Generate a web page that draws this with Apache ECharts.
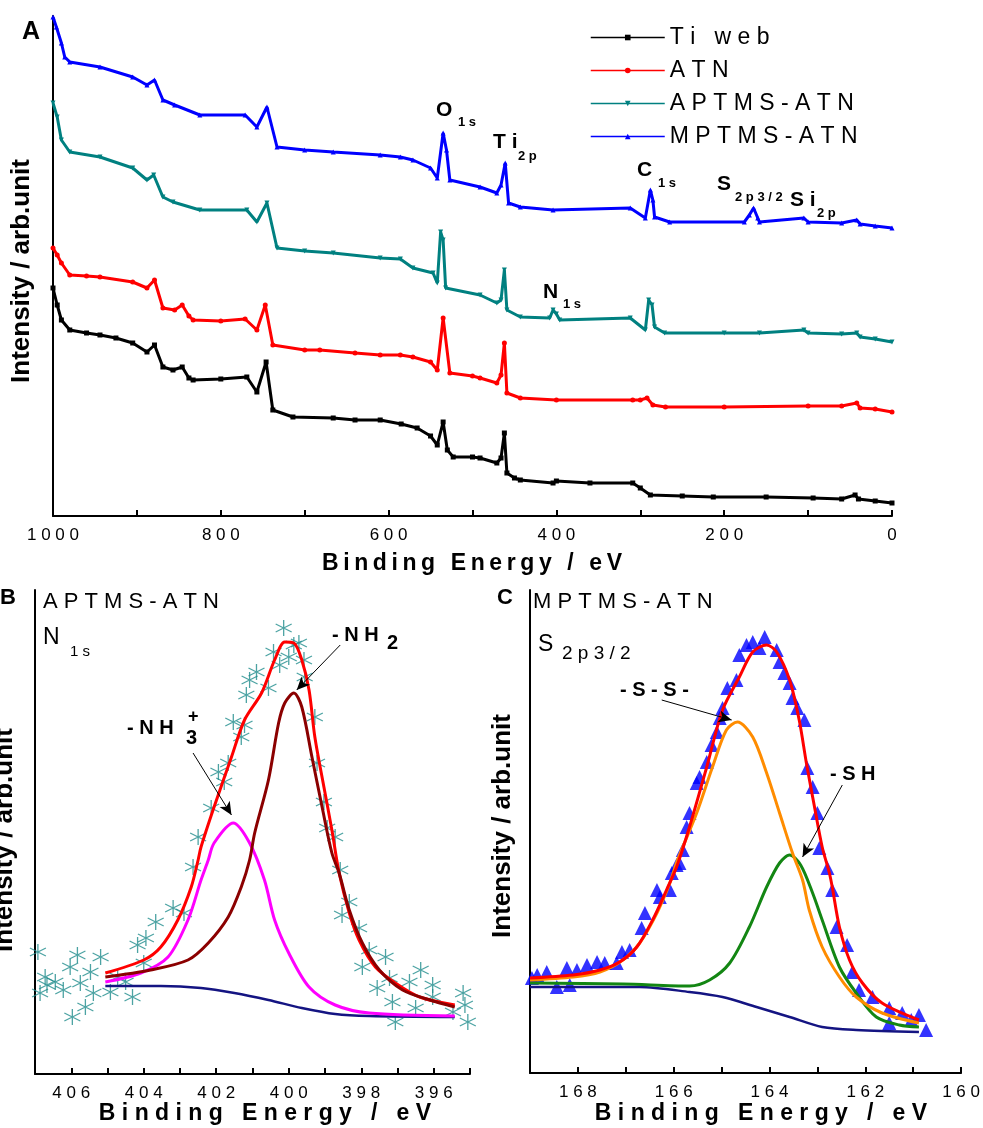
<!DOCTYPE html>
<html>
<head>
<meta charset="utf-8">
<script src="https://cdn.jsdelivr.net/npm/echarts@6/dist/echarts.min.js"></script>
</head>
<body style="margin:0; background:#fff;">
<div id="main" style="width:983px; height:1128px;"></div>
<script>
// ---- data (binding energy eV, intensity arb.) ----
// panel A: survey spectra
var surveyNames = ['Ti web', 'ATN', 'APTMS-ATN', 'MPTMS-ATN'];
var tiWeb = [[1000,228],[995,211],[990,196],[980,186],[960,183],[944,181],[925,178],[905,173],[888,164],[879,171],[869,149],[857,146],[846,149],[838,138],[833,136],[800,137],[769,139],[757,124],[746,154],[738,106],[714,99],[666,98],[640,96],[610,96],[585,92],[566,88],[550,80],[542,71],[535,94],[530,66],[523,59],[500,59],[491,58],[471,53],[466,58],[462,83],[459,43],[450,38],[443,36],[404,33],[400,35],[360,33],[309,33],[300,28],[288,21],[250,20],[213,19],[150,19],[94,18],[60,17],[44,21],[40,17],[20,15],[0,13]];
var atn = [[1000,268],[995,261],[990,253],[980,241],[960,240],[944,239],[905,234],[888,228],[879,236],[869,208],[855,206],[846,211],[838,200],[833,196],[800,195],[771,197],[757,186],[747,211],[738,171],[700,166],[682,166],[640,163],[610,161],[586,161],[571,159],[550,154],[542,146],[535,198],[527,143],[500,140],[491,138],[471,133],[466,141],[462,173],[459,123],[443,118],[400,116],[309,116],[300,116],[292,118],[285,111],[270,109],[200,109],[100,110],[60,110],[42,113],[38,108],[20,107],[0,104]];
var aptmsAtn = [[1000,413],[995,399],[990,376],[980,364],[944,359],[905,348],[888,336],[880,341],[869,319],[857,314],[825,306],[769,306],[757,294],[745,313],[733,268],[700,265],[666,263],[610,258],[586,257],[571,248],[547,243],[542,233],[538,284],[535,276],[532,228],[491,221],[471,213],[466,216],[462,246],[459,206],[443,199],[408,198],[404,206],[400,202],[396,196],[312,198],[294,186],[290,216],[286,211],[283,189],[271,183],[200,183],[158,183],[105,186],[100,183],[60,182],[42,183],[38,179],[20,177],[0,174]];
var mptmsAtn = [[1000,499],[996,489],[990,473],[986,459],[980,454],[944,449],[905,439],[888,431],[879,436],[869,416],[855,411],[825,401],[771,401],[757,389],[745,409],[733,369],[700,366],[666,364],[610,361],[586,359],[571,356],[550,348],[542,338],[535,383],[531,366],[527,336],[491,329],[471,323],[466,331],[461,353],[457,313],[443,309],[404,306],[312,308],[294,298],[288,326],[285,316],[283,299],[265,294],[176,294],[170,301],[165,308],[160,298],[158,294],[105,298],[100,294],[60,293],[42,296],[38,292],[20,290],[0,288]];

// panel B: N1s of APTMS-ATN
var n1sData = [[400.14,446],[399.72,431],[399.86,429],[400.42,422],[399.58,414],[400.25,409],[400.0,417],[400.89,402],[401.08,394],[400.56,386],[401.17,379],[399.56,397],[401.53,352],[401.22,349],[401.31,337],[399.28,357],[401.67,311],[401.94,302],[401.78,292],[402.14,266],[399.22,311],[399.03,272],[398.94,246],[398.72,237],[402.5,237],[402.64,207],[398.58,204],[398.33,172],[403.19,166],[402.89,161],[398.53,159],[403.67,152],[398.06,146],[403.94,136],[404.17,129],[397.78,124],[397.97,107],[397.33,117],[396.36,104],[397.22,96],[397.56,86],[396.67,92],[396.03,89],[396.03,77],[397.06,52],[397.14,72],[396.5,66],[395.19,81],[395.14,69],[395.47,62],[395.06,52],[406.92,122],[405.83,119],[405.19,117],[406.03,107],[405.47,102],[406.72,97],[406.44,92],[406.67,89],[405.75,91],[406.86,81],[406.22,84],[405.39,81],[404.92,82],[404.5,92],[404.31,77],[405.61,67],[405.97,57],[404.72,97],[404.0,111]];
var n1sEnvelope = [[405.06,101],[404.0,114],[403.53,127],[403.06,154],[402.69,187],[402.5,214],[402.42,227],[402.06,267],[401.58,317],[401.22,354],[400.75,381],[400.39,414],[400.11,432],[399.86,431],[399.64,414],[399.44,384],[399.28,337],[399.03,287],[398.81,244],[398.61,201],[398.33,161],[398.06,134],[397.61,107],[397.06,91],[396.39,77],[395.42,69]];
var n1sNH2 = [[405.06,97],[403.81,104],[402.78,114],[402.22,131],[401.67,157],[401.31,187],[401.08,214],[400.94,241],[400.56,294],[400.28,351],[400.11,371],[399.86,381],[399.64,367],[399.36,317],[399.08,267],[398.81,221],[398.61,201],[398.33,164],[397.97,131],[397.5,104],[396.86,84],[396.11,74],[395.42,67]];
var n1sNH3 = [[405.06,92],[404.08,101],[403.33,117],[402.78,154],[402.42,194],[402.22,214],[402.06,231],[401.53,251],[401.08,231],[400.67,194],[400.39,154],[400.0,121],[399.44,87],[398.72,69],[397.78,61],[395.42,58]];
var n1sBase = [[405.06,88],[403.53,88],[402.42,86],[401.5,81],[400.56,74],[399.64,66],[398.72,60],[397.78,58],[395.42,57]];

// panel C: S2p3/2 of MPTMS-ATN
var s2pData = [[164.10,436],[164.35,431],[164.48,428],[164.63,418],[164.21,425],[163.85,423],[163.79,411],[163.69,400],[163.58,390],[164.69,393],[164.88,385],[163.52,375],[163.42,365],[163.27,353],[164.98,365],[165.04,355],[165.10,341],[165.21,328],[165.31,311],[163.21,305],[163.10,286],[165.46,296],[165.52,290],[165.67,260],[165.73,246],[163.0,260],[162.96,225],[165.81,223],[165.94,208],[162.79,205],[166.04,200],[165.88,210],[162.69,183],[166.08,183],[166.35,183],[166.29,176],[166.60,160],[166.67,145],[162.60,146],[162.38,128],[166.92,123],[167.08,121],[167.19,110],[167.44,110],[167.60,111],[167.81,108],[168.02,103],[168.23,105],[168.65,101],[168.85,98],[168.96,95],[168.44,86],[168.17,88],[162.27,101],[162.13,83],[161.85,76],[161.50,65],[161.23,60],[161.04,53],[160.88,58],[160.73,43],[161.50,50]];
var s2pEnvelope = [[169,95],[168.10,98],[167.54,103],[167.13,111],[166.77,126],[166.44,153],[166.15,183],[165.94,206],[165.67,246],[165.31,306],[164.98,363],[164.63,396],[164.35,421],[164.06,428],[163.85,421],[163.58,393],[163.38,353],[163.23,310],[163.06,266],[162.90,226],[162.75,200],[162.69,186],[162.54,146],[162.33,113],[162.06,90],[161.65,70],[160.88,53]];
var s2pSS = [[169,93],[168.10,96],[167.54,101],[167.06,113],[166.71,130],[166.35,160],[166.08,190],[165.92,213],[165.52,260],[165.19,306],[164.90,343],[164.67,351],[164.35,336],[164.06,300],[163.79,260],[163.52,220],[163.31,193],[163.17,163],[162.90,126],[162.54,96],[162.19,76],[161.65,60],[160.88,50]];
var s2pSH = [[169,90],[167.06,89],[165.67,87],[165.25,93],[164.83,110],[164.42,146],[164.06,186],[163.79,210],[163.58,218],[163.35,208],[163.10,180],[162.90,153],[162.54,106],[162.19,80],[161.77,56],[161.29,48],[160.88,46]];
var s2pBase = [[169,86],[166.71,86],[165.67,81],[164.98,76],[164.27,66],[163.58,56],[162.90,46],[162.19,43],[160.88,41]];

var FONT = 'Liberation Sans, Arial, sans-serif';

function spaced(s, sep) {
    return String(s).split('').join(sep === undefined ? ' ' : sep);
}

function txt(x, y, text, size, bold, align, rot) {
    return {
        type: 'text', x: x, y: y, rotation: rot || 0, silent: true,
        style: {
            text: text, fontSize: size, fontWeight: bold ? 'bold' : 'normal',
            fontFamily: FONT, fill: '#000',
            align: align || 'left', verticalAlign: 'middle'
        }
    };
}

var chart = echarts.init(document.getElementById('main'));

var axisLine = {show: true, onZero: false, lineStyle: {color: '#000', width: 2}};

function xAxisFor(idx, min, max, step, every) {
    return {
        type: 'value', gridIndex: idx, min: min, max: max, interval: step, inverse: true,
        axisLine: axisLine,
        axisTick: {show: true, inside: true, length: 6, lineStyle: {color: '#000', width: 2}},
        axisLabel: {
            margin: 11, fontSize: 17, fontFamily: FONT, color: '#000',
            formatter: function (v) { return v % every === 0 ? spaced(v) : ''; }
        },
        splitLine: {show: false}
    };
}

function yAxisFor(idx, max) {
    return {
        type: 'value', gridIndex: idx, min: 0, max: max,
        axisLine: axisLine, axisTick: {show: false}, axisLabel: {show: false},
        splitLine: {show: false}
    };
}

function lineSeries(name, data, color, symbol, rot) {
    return {
        name: name, type: 'line', xAxisIndex: 0, yAxisIndex: 0, data: data,
        symbol: symbol, symbolSize: 5, symbolRotate: rot,
        itemStyle: {color: color}, lineStyle: {color: color, width: 3}
    };
}

function fitSeries(data, color, width, xi) {
    return {
        type: 'line', xAxisIndex: xi, yAxisIndex: xi, data: data, smooth: 0.3,
        symbol: 'none', lineStyle: {color: color, width: width}
    };
}

function arrows(pairs) {
    return {
        silent: true, symbol: ['none', 'arrow'], symbolSize: [9, 13],
        label: {show: false}, lineStyle: {color: '#000', width: 1, type: 'solid'},
        data: pairs.map(function (p) { return [{coord: p[0]}, {coord: p[1]}]; })
    };
}

var asterisk = 'path://M0,-10L0,10M-8.66,-5L8.66,5M-8.66,5L8.66,-5';

var baseB = fitSeries(n1sBase, '#141482', 2.5, 1);
baseB.markLine = arrows([[[398.58, 429], [399.78, 384]], [[402.64, 321], [401.58, 259]]]);
var baseC = fitSeries(s2pBase, '#141482', 2.5, 2);
baseC.markLine = arrows([[[166.25, 373], [164.79, 353]], [[162.48, 288], [163.31, 216]]]);

var option = {
    animation: false,
    backgroundColor: '#fff',
    grid: [
        {left: 53, top: 16, width: 839, height: 500},
        {left: 35, top: 590, width: 435, height: 484},
        {left: 530, top: 590, width: 433, height: 483}
    ],
    xAxis: [
        xAxisFor(0, 0, 1000, 100, 200),
        xAxisFor(1, 395, 407, 1, 2),
        xAxisFor(2, 160, 169, 1, 2)
    ],
    yAxis: [yAxisFor(0, 500), yAxisFor(1, 484), yAxisFor(2, 483)],
    legend: {
        data: surveyNames, orient: 'vertical', left: 590, top: 26,
        itemWidth: 74, itemHeight: 7, itemGap: 10, padding: 0,
        formatter: function (n) { return spaced(n); },
        textStyle: {fontSize: 23, fontFamily: FONT, color: '#000'},
        lineStyle: {width: 1.5}
    },
    series: [
        lineSeries(surveyNames[0], tiWeb, '#000000', 'rect', 0),
        lineSeries(surveyNames[1], atn, '#ff0000', 'circle', 0),
        lineSeries(surveyNames[2], aptmsAtn, '#008080', 'triangle', 180),
        lineSeries(surveyNames[3], mptmsAtn, '#0000ff', 'triangle', 0),
        {
            type: 'scatter', xAxisIndex: 1, yAxisIndex: 1, data: n1sData,
            symbol: asterisk, symbolSize: 16,
            itemStyle: {color: 'rgba(0,0,0,0)', borderColor: '#1f8c8c', borderWidth: 1.3}
        },
        baseB,
        fitSeries(n1sNH3, '#ff00ff', 3, 1),
        fitSeries(n1sEnvelope, '#ff0000', 3, 1),
        fitSeries(n1sNH2, '#8b0000', 3, 1),
        {
            type: 'scatter', xAxisIndex: 2, yAxisIndex: 2, data: s2pData,
            symbol: 'triangle', symbolSize: 14, itemStyle: {color: '#0000ff'}
        },
        baseC,
        fitSeries(s2pSH, '#138613', 3, 2),
        fitSeries(s2pSS, '#ff8c00', 3, 2),
        fitSeries(s2pEnvelope, '#ff0000', 3, 2)
    ],
    graphic: [
        // panel A
        txt(22, 32, 'A', 25, true),
        txt(22, 271, 'Intensity / arb.unit', 26, true, 'center', Math.PI / 2),
        txt(472, 564, spaced('Binding Energy / eV', '\u2009'), 23, true, 'center'),
        txt(436, 110, 'O', 21, true), txt(458, 122, '1 s', 13, true),
        txt(493, 142, 'T i', 21, true), txt(518, 156, '2 p', 13, true),
        txt(637, 170, 'C', 21, true), txt(658, 183, '1 s', 13, true),
        txt(717, 184, 'S', 21, true), txt(735, 197, '2 p 3 / 2', 13, true),
        txt(790, 200, 'S i', 21, true), txt(817, 213, '2 p', 13, true),
        txt(543, 292, 'N', 21, true), txt(563, 304, '1 s', 13, true),
        // panel B
        txt(0, 598, 'B', 22, true),
        txt(5, 840, 'Intensity / arb.unit', 26, true, 'center', Math.PI / 2),
        txt(265, 1114, spaced('Binding Energy / eV'), 23, true, 'center'),
        txt(43, 602, spaced('APTMS-ATN'), 22, false),
        txt(43, 638, 'N', 23, false), txt(70, 652, '1 s', 15, false),
        txt(127, 728, '- N H', 20, true), txt(188, 717, '+', 18, true), txt(186, 738, '3', 20, true),
        txt(332, 635, '- N H', 20, true), txt(387, 643, '2', 20, true),
        // panel C
        txt(497, 598, 'C', 22, true),
        txt(503, 826, 'Intensity / arb.unit', 26, true, 'center', Math.PI / 2),
        txt(761, 1114, spaced('Binding Energy / eV'), 23, true, 'center'),
        txt(533, 602, spaced('MPTMS-ATN'), 22, false),
        txt(538, 645, 'S', 23, false), txt(562, 654, '2 p 3 / 2', 19, false),
        txt(620, 690, '- S - S -', 20, true),
        txt(830, 774, '- S H', 20, true)
    ]
};

chart.setOption(option);
</script>
</body>
</html>
